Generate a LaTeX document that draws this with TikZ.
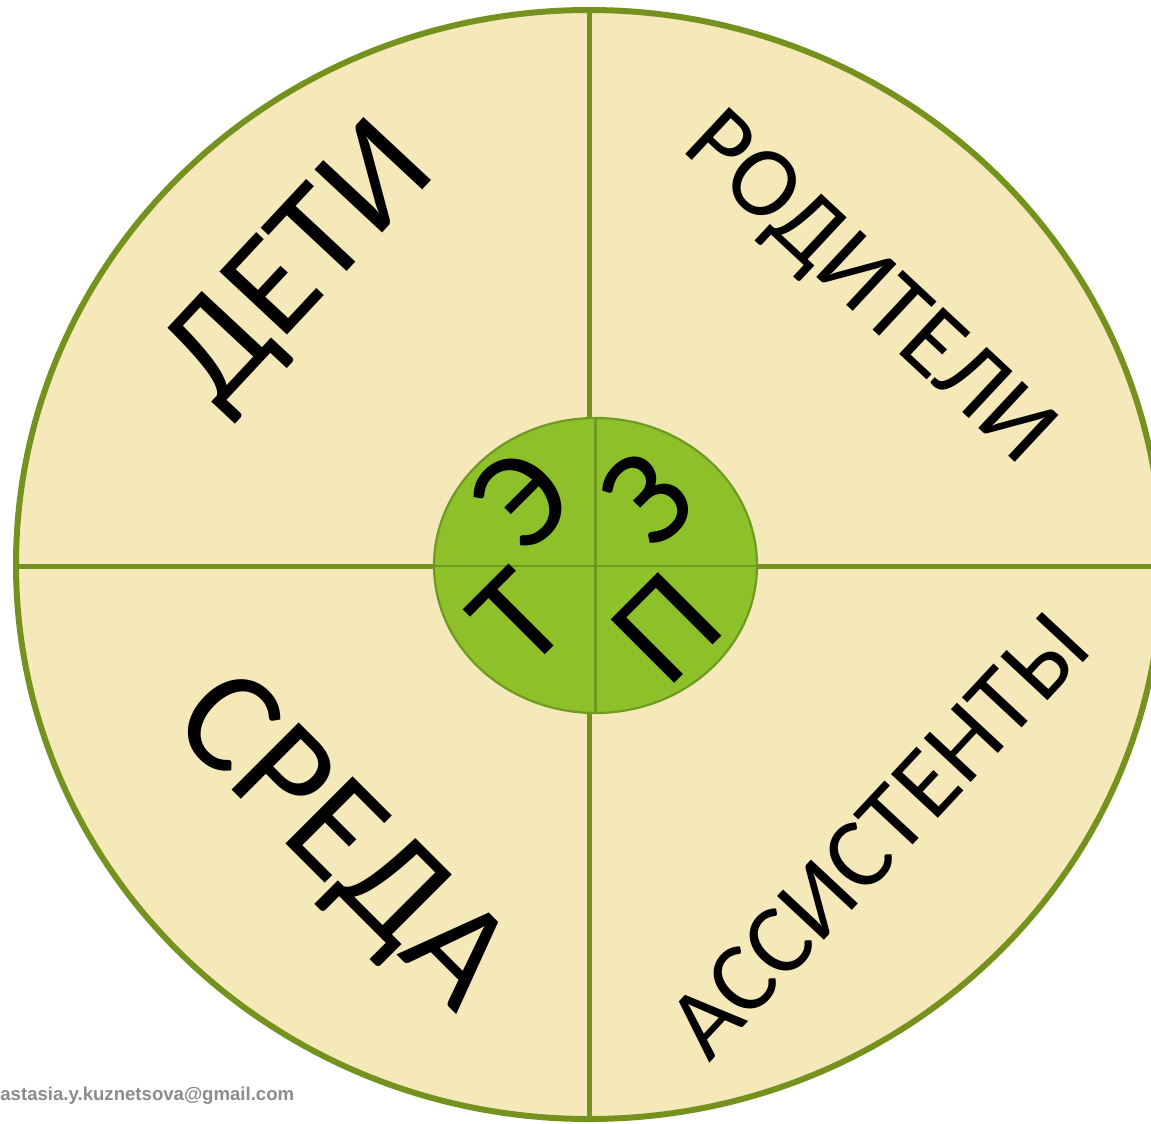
\documentclass[tikz,border=0pt]{standalone}
\usepackage{fontspec}
\setmainfont{Carlito}
\newfontfamily\mailfont{Liberation Sans}
\usepackage{xcolor}
\definecolor{rim}{HTML}{76921E}
\definecolor{disc}{HTML}{F5E9BA}
\definecolor{hub}{HTML}{8EC02A}
\definecolor{hubrim}{HTML}{6E9A22}
\definecolor{mailgray}{HTML}{8C8C8C}

\begin{document}
\begin{tikzpicture}[
  x=0.5pt, y=-0.5pt,
  word/.style={anchor=base, text=black, inner sep=0pt},
  bigword/.style={word, font=\fontsize{72}{72}\selectfont},
  midword/.style={word, font=\fontsize{50}{50}\selectfont},
  hubletter/.style={word, rotate=45, font=\fontsize{70}{70}\selectfont},
  rimline/.style={draw=rim, line width=2.5pt},
  hubline/.style={draw=hubrim, line width=1.1pt}
]
\useasboundingbox (0,0) rectangle (1151,1124);
\clip (0,0) rectangle (1151,1124);
\fill[white] (0,0) rectangle (1151,1124);
% wheel
\filldraw[fill=disc, draw=rim, line width=3pt] (589,564.5) ellipse [x radius=573, y radius=554.5];
\draw[rimline] (589,10) -- (589,1119);
\draw[rimline] (16,566) -- (1162,566);
% hub
\filldraw[fill=hub, hubline] (595.5,565.5) ellipse [x radius=161.5, y radius=147.5];
\draw[hubline] (595.5,418) -- (595.5,713);
\draw[hubline] (434,566) -- (757,566);
% words
\node[bigword, rotate=47] (kids) at (328,292) {ДЕТИ};
\node[midword, rotate=-43] (parents) at (850.5,308.5) {РОДИТЕЛИ};
\node[bigword, rotate=-45, font=\fontsize{74}{74}\selectfont] (milieu) at (313,870.5) {СРЕДА};
\node[midword, rotate=47] (helpers) at (902,857) {АССИСТЕНТЫ};
\node[hubletter] (e) at (554,530) {Э};
\node[hubletter] (z) at (679,530) {З};
\node[hubletter] (t) at (550,650) {Т};
\node[hubletter] (p) at (698,660) {П};
\node[anchor=base west, inner sep=0pt, text=mailgray,
      font=\mailfont\bfseries\fontsize{9.3}{9.3}\selectfont] (mail) at (0,1100)
  {astasia.y.kuznetsova@gmail.com};
\end{tikzpicture}
\end{document}
